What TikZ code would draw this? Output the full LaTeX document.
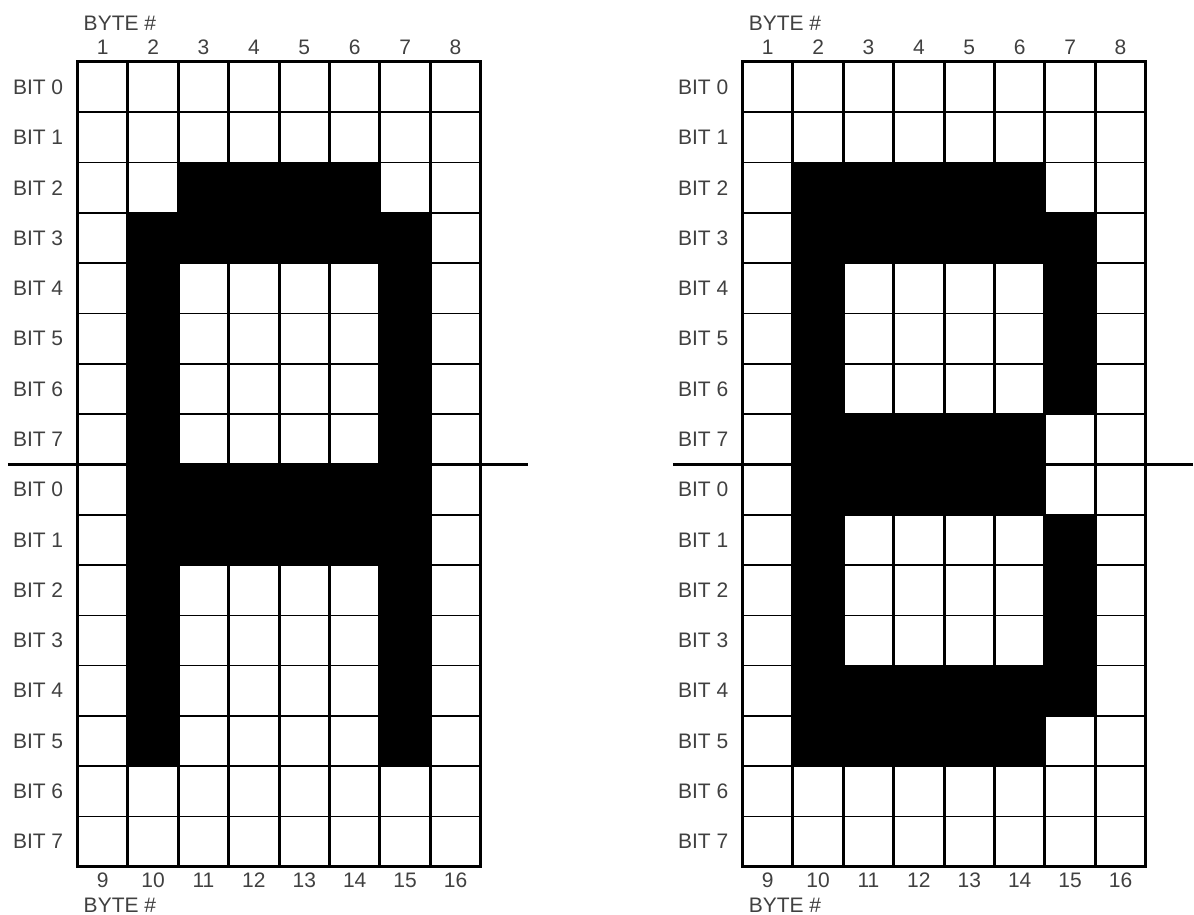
\documentclass[tikz,border=0pt]{standalone}
\usepackage{fontspec}
\setmainfont{Liberation Sans}
\tikzset{
    lbl/.style={text=black!75, font=\fontsize{21}{22}\selectfont, inner sep=0pt},
    hline/.style={line width=1.6pt},
    vline/.style={line width=3pt},
    frame/.style={line width=3pt}
}
% #1 left edge, #2 node prefix, #3 black cells as x1/y1/x2/y2
\newcommand{\charmap}[3]{%
  \begin{scope}[shift={(#1,62)}, x=50.4pt, y=-50.3pt]
    \foreach \a/\b/\c/\d in {#3}
        \fill (\a,\b) rectangle (\c,\d);
    \foreach \r in {1,...,15}
        \draw[hline] (0,\r) -- (8,\r);
    \foreach \c in {1,...,7}
        \draw[vline] (\c,0) -- (\c,16);
    \draw[frame] (0,0) rectangle (8,16);
    \draw[frame] (-1.38,8) -- (8.93,8);
    \foreach \r [evaluate=\r as \b using {int(mod(\r,8))}] in {0,...,15}
        \node[lbl, anchor=east] (#2-bit-\r) at (-0.28,\r+0.5) {BIT \b};
    \foreach \c [evaluate=\c as \n using {int(\c+8)}] in {1,...,8} {
        \node[lbl, anchor=base] (#2-top-\c) at (\c-0.5,-0.14) {\c};
        \node[lbl, anchor=base] (#2-bot-\c) at (\c-0.5,16.42) {\n};
    }
    \node[lbl, anchor=base west] (#2-byte-top) at (0.12,-0.62) {BYTE \#};
    \node[lbl, anchor=base west] (#2-byte-bot) at (0.12,16.9) {BYTE \#};
  \end{scope}}
\begin{document}
\begin{tikzpicture}[x=1pt, y=-1pt]
\useasboundingbox (0,0) rectangle (1194,915);
% letter A
\charmap{77.5}{A}{2/2/6/3, 1/3/7/4, 1/3/2/14, 6/3/7/14, 1/8/7/10}
% letter B
\charmap{742.5}{B}{1/2/2/14, 1/2/6/3, 1/3/7/4, 6/3/7/7, 1/7/6/9,
    6/9/7/13, 1/12/7/13, 1/13/6/14}
\end{tikzpicture}
\end{document}
